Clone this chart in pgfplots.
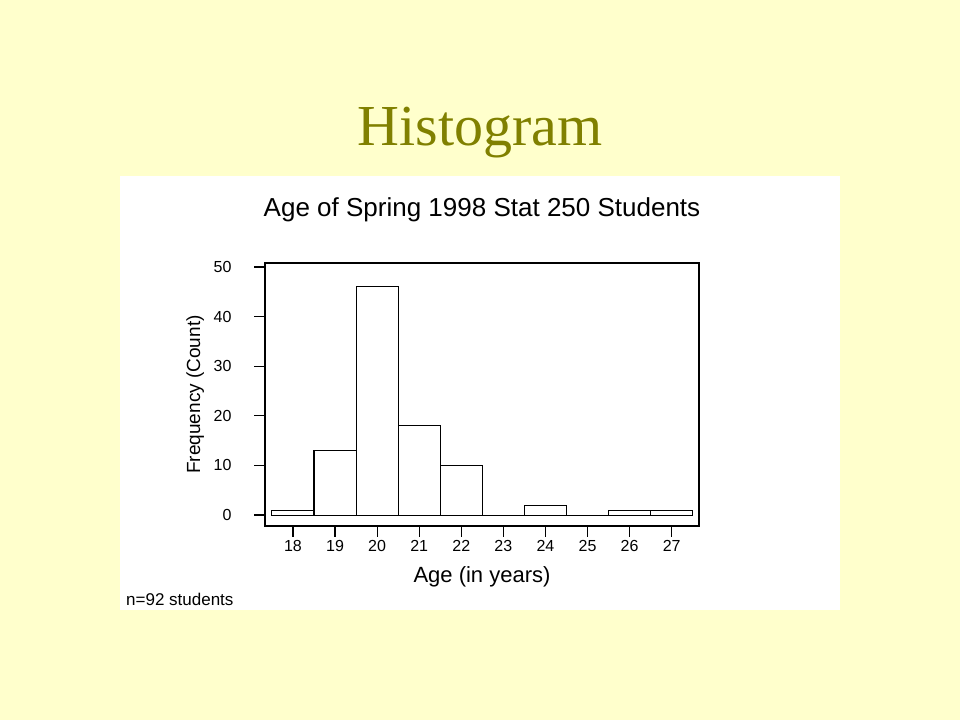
\documentclass[border=0pt]{standalone}
\usepackage{pgfplots}
\pgfplotsset{compat=1.18}
\usepackage{fontspec}
\setmainfont{Liberation Sans}
\newfontfamily\timesfont{Liberation Serif}
\definecolor{slidebg}{RGB}{255,255,204}
\definecolor{olivetitle}{RGB}{128,128,0}

\begin{document}
\begin{tikzpicture}[x=1pt,y=1pt]
% slide background and white chart panel (1pt = 1px, y measured from bottom)
\fill[slidebg] (0,0) rectangle (960,720);
\fill[white] (120,110) rectangle (840,544);
\node[font=\timesfont\fontsize{58}{60}\selectfont, text=olivetitle, anchor=base] at (480,574) {Histogram};

\begin{axis}[
    at={(265pt,194pt)}, anchor=south west,
    scale only axis,
    width=434pt, height=263pt,
    xmin=17.335, xmax=27.65,
    ymin=-2.2, ymax=50.8,
    xtick={18,...,27},
    ytick={0,10,...,50},
    xtick pos=bottom, ytick pos=left,
    tick align=outside,
    major tick length=11pt,
    tick style={black, line width=1.2pt},
    axis line style={line width=1.2pt},
    /pgf/number format/assume math mode=true,
    tick label style={font=\fontsize{16}{18}\selectfont},
    yticklabel style={xshift=-19pt},
    title={Age of Spring 1998 Stat 250 Students},
    title style={font=\fontsize{26}{28}\selectfont, at={(axis description cs:0.5,1.179)}, anchor=center},
    xlabel={Age (in years)},
    xlabel style={font=\fontsize{22}{24}\selectfont, at={(axis description cs:0.5,-0.194)}, anchor=center},
    ylabel={Frequency (Count)},
    ylabel style={font=\fontsize{19}{21}\selectfont, at={(axis description cs:-0.161,0.5)}, anchor=center},
    clip=false,
]
\addplot[ybar, bar width=1, fill=white, draw=black, line width=1.1pt]
    coordinates {
    (18,1) (19,13) (20,46) (21,18) (22,10) (23,0) (24,2) (25,0) (26,1) (27,1)
    };
\end{axis}

\node[font=\fontsize{17}{19}\selectfont, anchor=base west, inner sep=0pt] at (126,115) {n=92 students};
\end{tikzpicture}
\end{document}
